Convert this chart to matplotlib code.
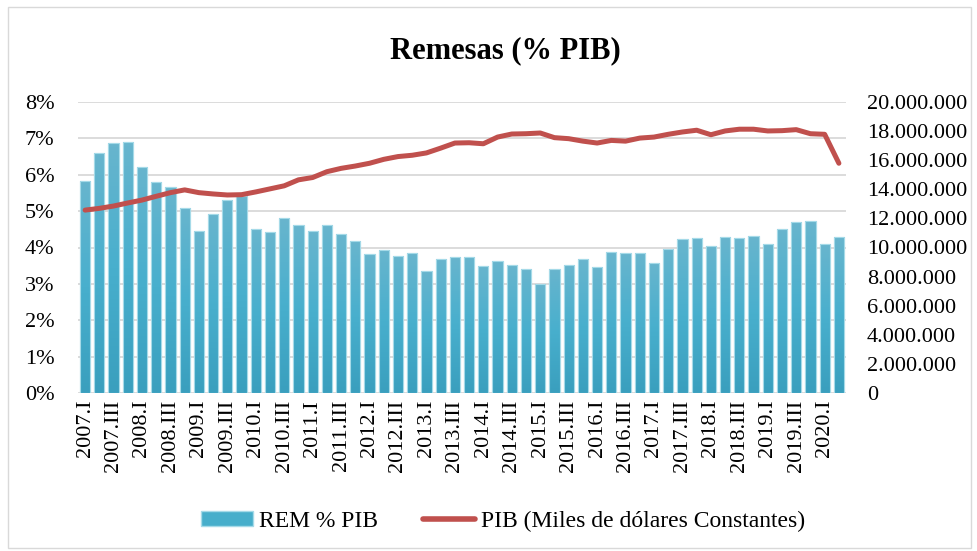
import matplotlib
matplotlib.use("Agg")
import numpy as np
import matplotlib.pyplot as plt
import matplotlib.ticker as mticker
from matplotlib.patches import Rectangle, Patch
from matplotlib.lines import Line2D
from matplotlib.colors import LinearSegmentedColormap

plt.rcParams['font.family'] = ['Liberation Serif', 'DejaVu Serif']

years = list(range(2007, 2021))
quarters = ["I", "II", "III", "IV"]
periods = [f"{y}.{q}" for y in years for q in quarters][:54]

rem_pct = [5.83, 6.60, 6.87, 6.89, 6.22, 5.81, 5.67, 5.09, 4.44, 4.91,
           5.31, 5.41, 4.52, 4.42, 4.81, 4.63, 4.44, 4.61, 4.37, 4.17,
           3.81, 3.94, 3.78, 3.84, 3.36, 3.69, 3.74, 3.75, 3.50, 3.63,
           3.52, 3.42, 2.99, 3.41, 3.53, 3.68, 3.46, 3.87, 3.85, 3.85,
           3.58, 3.97, 4.23, 4.26, 4.04, 4.29, 4.26, 4.32, 4.10, 4.51,
           4.69, 4.74, 4.09, 4.30]

pib = [12.57, 12.69, 12.85, 13.06, 13.26, 13.52, 13.77, 13.96, 13.77, 13.68,
       13.61, 13.63, 13.82, 14.03, 14.24, 14.65, 14.81, 15.21, 15.44, 15.60,
       15.79, 16.06, 16.25, 16.34, 16.50, 16.83, 17.18, 17.20, 17.13, 17.59,
       17.80, 17.82, 17.87, 17.55, 17.48, 17.31, 17.18, 17.36, 17.31, 17.52,
       17.59, 17.78, 17.94, 18.06, 17.75, 18.01, 18.13, 18.13, 18.01, 18.03,
       18.10, 17.82, 17.78, 15.79]
pib = [v * 1e6 for v in pib]

BAR = '#47AECB'
EDGE = '#A5DAE8'
LINE = '#C0504D'

W, H = 978, 551
fig = plt.figure(figsize=(W / 100, H / 100), dpi=100)
ax = fig.add_axes([78 / W, 1 - 393 / H, (846 - 78) / W, (393 - 102) / H])
ax2 = ax.twinx()

x = list(range(len(periods)))
bars = ax.bar(x, rem_pct, width=0.72, color=BAR, edgecolor=EDGE, linewidth=0.8, zorder=2)

cmap = LinearSegmentedColormap.from_list('g', ['#3A9FBE', '#48AFCD', '#68B5CD'])
grad = np.linspace(0, 1, 64).reshape(-1, 1)
for b in bars:
    bx, by = b.get_x(), b.get_y()
    bw, bh = b.get_width(), b.get_height()
    im = ax.imshow(grad, cmap=cmap, origin='lower', aspect='auto',
                   extent=(bx, bx + bw, by, by + bh), zorder=2.1)
    im.set_clip_path(b)
    ax.add_patch(Rectangle((bx, by), bw, bh, fill=False, edgecolor=EDGE,
                           linewidth=0.8, zorder=2.2))

ax.set_xlim(-0.5, len(periods) - 0.5)
ax.set_ylim(0, 8)
ax.yaxis.set_major_locator(mticker.MultipleLocator(1))
ax.yaxis.set_major_formatter(mticker.FuncFormatter(lambda v, p: f"{int(round(v))}%"))
ax.grid(axis='y', color='#D9D9D9', linewidth=1.3, zorder=0)
ax.set_axisbelow(True)

ax.set_xticks(x[::2])
ax.set_xticklabels(periods[::2], rotation=90, fontsize=16)
ax.tick_params(axis='x', length=0, pad=5)
ax.tick_params(axis='y', length=0, labelsize=16, pad=17)

ax2.plot(x, pib, color=LINE, linewidth=3.6, solid_capstyle='round', zorder=3)
ax2.set_ylim(0, 20e6)
ax2.yaxis.set_major_locator(mticker.MultipleLocator(2e6))
ax2.yaxis.set_major_formatter(mticker.FuncFormatter(
    lambda v, p: "0" if v == 0 else f"{int(round(v)):,}".replace(",", ".")))
ax2.tick_params(axis='y', length=0, labelsize=16, pad=15)

for a in (ax, ax2):
    for s in a.spines.values():
        s.set_visible(False)

fig.text(505 / W, 1 - 51 / H, "Remesas (% PIB)", ha='center', va='center',
         fontsize=22, fontweight='bold')

handles = [Patch(facecolor=BAR, edgecolor=EDGE),
           Line2D([0], [0], color=LINE, linewidth=4, solid_capstyle='round')]
fig.legend(handles, ["REM % PIB", "PIB (Miles de dólares Constantes)"],
           loc='center', bbox_to_anchor=(503 / W, 1 - 521 / H), ncol=2,
           frameon=False, fontsize=17, handlelength=2.2, handleheight=0.6,
           handletextpad=0.25, columnspacing=1.9)

fig.patches.append(Rectangle((8 / W, 3 / H), 963 / W, 541 / H, transform=fig.transFigure,
                             fill=False, edgecolor='#D9D9D9', linewidth=1))

fig.savefig("out.png", dpi=100)
